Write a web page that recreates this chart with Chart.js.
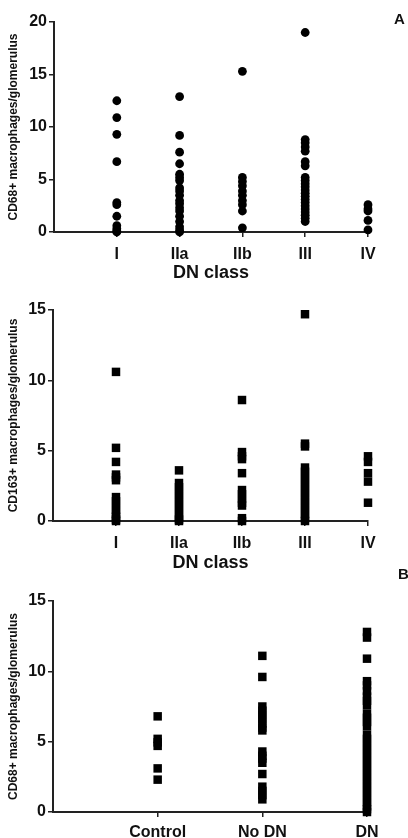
<!DOCTYPE html>
<html>
<head>
<meta charset="utf-8">
<script src="https://cdn.jsdelivr.net/npm/chart.js@4.4.0/dist/chart.umd.min.js"></script>
<style>
  body { margin: 0; background: #fff; width: 408px; height: 838px; position: relative; overflow: hidden;
         font-family: "Liberation Sans", Arial, sans-serif; }
  canvas { position: absolute; left: 0; }
  .panel-letter { position: absolute; font-weight: bold; font-size: 15px; color: #111; }
</style>
</head>
<body>
<canvas id="chartCd68" width="408" height="285" style="top:0"></canvas>
<canvas id="chartCd163" width="408" height="285" style="top:290px"></canvas>
<canvas id="chartGroups" width="408" height="253" style="top:585px"></canvas>
<div class="panel-letter" style="left:394px;top:10px">A</div>
<div class="panel-letter" style="left:398px;top:565px">B</div>
<script>
// categories
const dnClasses = ["I", "IIa", "IIb", "III", "IV"];
const groupNames = ["Control", "No DN", "DN"];

// CD68+ macrophages per glomerulus, by DN class (panel A, top)
const cd68I = [12.5, 10.9, 9.3, 6.7, 2.8, 2.6, 1.5, 0.6, 0.3, 0.1, 0];
const cd68IIa = [12.9, 9.2, 7.6, 6.5, 5.5, 5.2, 4.9, 4.2, 3.9, 3.5, 3.0, 2.7, 2.3, 2.0, 1.5, 1.0, 0.5, 0.2, 0];
const cd68IIb = [15.3, 5.2, 4.8, 4.4, 3.9, 3.5, 3.0, 2.6, 2.0, 0.4];
const cd68III = [19.0, 8.8, 8.5, 8.1, 7.7, 6.7, 6.3, 5.2, 4.9, 4.6, 4.3, 4.0, 3.7, 3.4, 3.1, 2.8, 2.5, 2.2, 1.9, 1.6, 1.3, 1.0];
const cd68IV = [2.6, 2.2, 2.0, 1.1, 0.2];

// CD163+ macrophages per glomerulus, by DN class (panel A, middle)
const cd163I = [10.6, 5.2, 4.2, 3.3, 3.1, 2.9, 1.7, 1.4, 1.1, 0.8, 0.5, 0.3, 0.1, 0];
const cd163IIa = [3.6, 2.7, 2.4, 2.1, 1.8, 1.5, 1.2, 0.9, 0.6, 0.3, 0.1, 0];
const cd163IIb = [8.6, 4.9, 4.6, 4.4, 3.4, 2.2, 1.9, 1.6, 1.3, 1.1, 0.2, 0];
const cd163III = [14.7, 5.5, 5.3, 3.8, 3.5, 3.2, 2.9, 2.6, 2.3, 2.0, 1.7, 1.4, 1.1, 0.8, 0.5, 0.2, 0];
const cd163IV = [4.6, 4.2, 3.4, 2.8, 1.3];

// CD68+ macrophages per glomerulus, by group (panel B)
const cd68Control = [6.8, 5.2, 4.95, 4.7, 3.1, 2.3];
const cd68NoDN = [11.1, 9.6, 7.5, 7.2, 6.9, 6.6, 6.3, 6.0, 5.8, 4.3, 4.0, 3.8, 3.5, 2.7, 1.8, 1.5, 1.2, 0.9];
const cd68DN = [12.8, 12.4, 10.9, 9.3, 9.0, 8.6, 8.2, 7.9, 7.6, 7.0, 6.7, 6.4, 6.1, 5.5, 5.2, 4.9, 4.6, 4.3,
                4.0, 3.7, 3.4, 3.1, 2.8, 2.5, 2.2, 1.9, 1.6, 1.3, 1.0, 0.7, 0.4, 0.2, 0];

const ink = "#111";
const axisColor = "#222";

// one column scatter chart, categories sit at x = 1..n on a linear scale starting at 0
function columnScatter(id, groups, labels, yMax, yTitle, xTitle, style, radius, box) {
  const datasets = groups.map((vals, i) => ({
    data: vals.map(v => ({ x: i + 1, y: v })),
    pointStyle: style,
    pointRadius: radius,
    pointBackgroundColor: "#000",
    pointBorderWidth: 0,
    showLine: false,
    clip: false
  }));

  return new Chart(document.getElementById(id), {
    type: "scatter",
    data: { datasets: datasets },
    options: {
      responsive: false,
      animation: false,
      devicePixelRatio: 1,
      layout: { padding: { top: box.top, right: box.right, left: 0, bottom: 0 } },
      plugins: { legend: { display: false }, tooltip: { enabled: false } },
      scales: {
        x: {
          type: "linear",
          min: 0,
          max: labels.length,
          afterBuildTicks: s => { s.ticks = labels.map((_, i) => ({ value: i + 1 })); },
          afterFit: s => { s.height = box.xh; },
          ticks: {
            autoSkip: false,
            maxRotation: 0,
            padding: box.xpad,
            color: ink,
            font: { size: 16, weight: "bold" },
            callback: v => labels[v - 1]
          },
          grid: { drawOnChartArea: false, drawTicks: true, tickLength: 5, color: axisColor, lineWidth: 1.5 },
          border: { color: axisColor, width: 2 },
          title: {
            display: !!xTitle,
            text: xTitle,
            color: ink,
            font: { size: 18, weight: "bold" },
            padding: { top: 0, bottom: 1 }
          }
        },
        y: {
          min: 0,
          max: yMax,
          afterFit: s => { s.width = box.yw; },
          ticks: { stepSize: 5, padding: 2, color: ink, font: { size: 16, weight: "bold" } },
          grid: { drawOnChartArea: false, drawTicks: true, tickLength: 5, color: axisColor, lineWidth: 1.5 },
          border: { color: axisColor, width: 2 },
          title: {
            display: true,
            text: yTitle,
            color: ink,
            font: { size: 12, weight: "bold" },
            padding: { top: 6, bottom: 0 }
          }
        }
      }
    }
  });
}

document.addEventListener("DOMContentLoaded", function () {
  columnScatter("chartCd68", [cd68I, cd68IIa, cd68IIb, cd68III, cd68IV], dnClasses, 20,
    "CD68+ macrophages/glomerulus", "DN class", "circle", 4.4,
    { top: 22, right: 40, xh: 53, yw: 54, xpad: 8 });

  columnScatter("chartCd163", [cd163I, cd163IIa, cd163IIb, cd163III, cd163IV], dnClasses, 15,
    "CD163+ macrophages/glomerulus", "DN class", "rect", 6,
    { top: 20, right: 40, xh: 54, yw: 53, xpad: 8 });

  columnScatter("chartGroups", [cd68Control, cd68NoDN, cd68DN], groupNames, 15,
    "CD68+ macrophages/glomerulus", "", "rect", 6,
    { top: 16, right: 41, xh: 26, yw: 53, xpad: 6 });
});
</script>
</body>
</html>
